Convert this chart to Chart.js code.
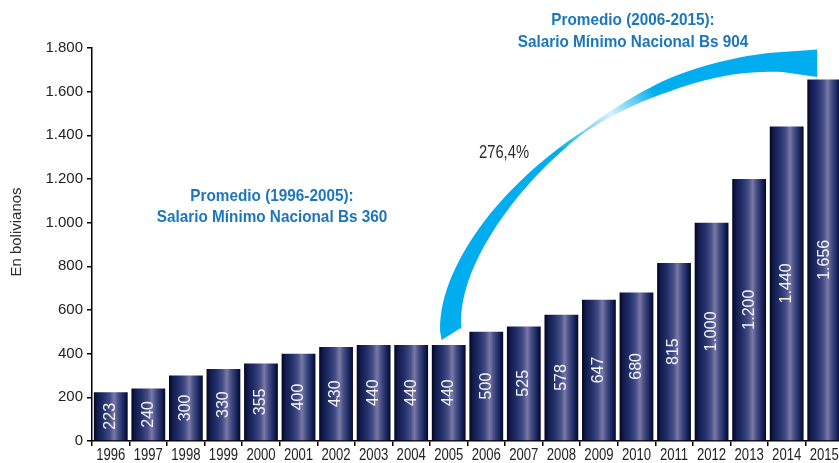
<!DOCTYPE html>
<html><head><meta charset="utf-8">
<script src="https://cdn.jsdelivr.net/npm/chart.js@4.4.0/dist/chart.umd.min.js"></script>
<style>html,body{margin:0;padding:0;background:#fff;overflow:hidden}#wrap{width:843px;height:463px}</style>
</head><body><div id="wrap"><canvas id="c" width="843" height="463"></canvas></div>
<script>
const years = ['1996','1997','1998','1999','2000','2001','2002','2003','2004','2005','2006','2007','2008','2009','2010','2011','2012','2013','2014','2015'];
const salarioMinimo = [223,240,300,330,355,400,430,440,440,440,500,525,578,647,680,815,1000,1200,1440,1656];
const yTicks = [0,200,400,600,800,1000,1200,1400,1600,1800];
const axisTitle = 'En bolivianos';
const avgFirst = ['Promedio (1996-2005):','Salario Mínimo Nacional Bs 360'];
const avgSecond = ['Promedio (2006-2015):','Salario Mínimo Nacional Bs 904'];
const growthLabel = '276,4%';

const fmt = v => String(v).replace(/\B(?=(\d{3})+(?!\d))/g, '.');
const REG = '"Liberation Sans", Arial, sans-serif';
const BAR_PCT = 0.9;

function narrowText(ctx, text, x, y, font, sx, color, rot) {
  ctx.save();
  ctx.translate(x, y);
  if (rot) ctx.rotate(rot);
  ctx.scale(sx, 1);
  ctx.font = font;
  ctx.fillStyle = color;
  ctx.textAlign = 'center';
  ctx.textBaseline = 'middle';
  ctx.fillText(text, 0, 0);
  ctx.restore();
}

function barGradient(ctx) {
  const chart = ctx.chart;
  const xs = chart.scales && chart.scales.x;
  if (!xs || !chart.chartArea || ctx.dataIndex === undefined) return '#1f2c66';
  const c = xs.getPixelForValue(ctx.dataIndex);
  const w = xs.width / years.length * BAR_PCT;
  const g = chart.ctx.createLinearGradient(c - w / 2, 0, c + w / 2, 0);
  g.addColorStop(0, '#02051f');
  g.addColorStop(0.1, '#101a4a');
  g.addColorStop(0.3, '#22306c');
  g.addColorStop(0.48, '#464f85');
  g.addColorStop(0.6, '#7a78a6');
  g.addColorStop(0.72, '#464f85');
  g.addColorStop(0.86, '#1e2b64');
  g.addColorStop(1, '#03072a');
  return g;
}

const valueLabels = {
  id: 'valueLabels',
  afterDatasetsDraw(chart) {
    const ctx = chart.ctx;
    const meta = chart.getDatasetMeta(0);
    ctx.save();
    ctx.fillStyle = '#f4f4f8';
    ctx.font = '16px ' + REG;
    ctx.textAlign = 'center';
    ctx.textBaseline = 'middle';
    meta.data.forEach((el, i) => {
      ctx.save();
      ctx.translate(el.x, (el.y + el.base) / 2);
      ctx.rotate(-Math.PI / 2);
      ctx.fillText(fmt(salarioMinimo[i]), 0, 0);
      ctx.restore();
    });
    ctx.restore();
  }
};

const xLabels = {
  id: 'xLabels',
  afterDraw(chart) {
    const ctx = chart.ctx;
    const xs = chart.scales.x;
    years.forEach((y, i) => {
      narrowText(ctx, y, xs.getPixelForValue(i), xs.top + 15, '16px ' + REG, 0.82, '#222');
    });
  }
};

function bez(p, t) {
  const u = 1 - t;
  return {
    x: u*u*u*p[0].x + 3*u*u*t*p[1].x + 3*u*t*t*p[2].x + t*t*t*p[3].x,
    y: u*u*u*p[0].y + 3*u*u*t*p[1].y + 3*u*t*t*p[2].y + t*t*t*p[3].y
  };
}
function bezD(p, t) {
  const u = 1 - t;
  return {
    x: 3*u*u*(p[1].x-p[0].x) + 6*u*t*(p[2].x-p[1].x) + 3*t*t*(p[3].x-p[2].x),
    y: 3*u*u*(p[1].y-p[0].y) + 6*u*t*(p[2].y-p[1].y) + 3*t*t*(p[3].y-p[2].y)
  };
}
const halfW = [[0,11],[0.15,9],[0.35,6],[0.5,3],[0.6,1],[0.68,3],[0.78,6],[0.9,7.5],[1,10]];
function hAt(t) {
  for (let i = 1; i < halfW.length; i++) {
    if (t <= halfW[i][0]) {
      const a = halfW[i-1], b = halfW[i];
      return a[1] + (b[1]-a[1]) * (t - a[0]) / (b[0] - a[0]);
    }
  }
  return halfW[halfW.length-1][1];
}

const annotations = {
  id: 'annotations',
  afterDatasetsDraw(chart) {
    const ctx = chart.ctx;
    const xs = chart.scales.x, ys = chart.scales.y;
    const A = { x: xs.getPixelForValue(9), y: ys.getPixelForValue(salarioMinimo[9]) };
    const B = { x: xs.getPixelForValue(19), y: ys.getPixelForValue(salarioMinimo[19]) };
    const P = [
      { x: A.x + 2.5, y: A.y - 11 },
      { x: A.x - 9, y: A.y - 105 },
      { x: B.x - 224, y: B.y - 15 },
      { x: B.x - 42, y: B.y - 17.5 }
    ];
    const outer = [], inner = [];
    const N = 80;
    for (let i = 0; i <= N; i++) {
      const t = i / N;
      const c = bez(P, t), d = bezD(P, t);
      const L = Math.hypot(d.x, d.y);
      const n = { x: d.y / L, y: -d.x / L };
      const h = hAt(t);
      outer.push({ x: c.x + n.x * h, y: c.y + n.y * h });
      inner.push({ x: c.x - n.x * h, y: c.y - n.y * h });
    }
    outer[0] = { x: A.x - 7, y: A.y - 5 };
    inner[0] = { x: A.x + 12, y: A.y - 17 };
    const top = { x: B.x - 7, y: B.y - 30 };
    const tip = { x: B.x - 7, y: B.y - 2.5 };
    ctx.save();
    const g = ctx.createLinearGradient(A.x - 20, A.y, B.x, B.y - 20);
    g.addColorStop(0, '#00aeef');
    g.addColorStop(0.45, '#00aeef');
    g.addColorStop(0.58, '#d8f2fd');
    g.addColorStop(0.68, '#00aeef');
    g.addColorStop(1, '#00aeef');
    ctx.fillStyle = g;
    ctx.beginPath();
    ctx.moveTo(outer[0].x, outer[0].y);
    outer.forEach(p => ctx.lineTo(p.x, p.y));
    ctx.lineTo(top.x, top.y);
    ctx.lineTo(tip.x, tip.y);
    for (let i = inner.length - 1; i >= 0; i--) ctx.lineTo(inner[i].x, inner[i].y);
    ctx.closePath();
    ctx.fill();
    ctx.restore();

    const blue = '#1b76bd';
    const bfont = 'bold 17px ' + REG;
    narrowText(ctx, avgFirst[0], 272, 196, bfont, 0.9, blue);
    narrowText(ctx, avgFirst[1], 272, 217, bfont, 0.9, blue);
    narrowText(ctx, avgSecond[0], 633, 20, bfont, 0.9, blue);
    narrowText(ctx, avgSecond[1], 633, 42, bfont, 0.9, blue);
    narrowText(ctx, growthLabel, 504, 153, '18px ' + REG, 0.82, '#2b2b2b');
    narrowText(ctx, axisTitle, 17, 232, '15px ' + REG, 1, '#2b2b2b', -Math.PI / 2);
  }
};

new Chart(document.getElementById('c'), {
  type: 'bar',
  data: {
    labels: years,
    datasets: [{
      data: salarioMinimo,
      backgroundColor: barGradient,
      borderWidth: 0,
      barPercentage: BAR_PCT,
      categoryPercentage: 1
    }]
  },
  options: {
    responsive: false,
    animation: false,
    devicePixelRatio: 1,
    layout: { padding: { top: 48, left: 0, right: 0, bottom: 0 } },
    plugins: { legend: { display: false }, tooltip: { enabled: false } },
    scales: {
      x: {
        afterFit: s => { s.height = 22; },
        grid: { drawOnChartArea: false, drawTicks: true, tickLength: 5, color: '#000', lineWidth: 1.5, offset: true },
        border: { color: '#000', width: 1.5 },
        ticks: { display: false, autoSkip: false }
      },
      y: {
        min: 0, max: 1800,
        afterFit: s => { s.width = 92; },
        afterBuildTicks: s => { s.ticks = yTicks.map(v => ({ value: v })); },
        grid: { drawOnChartArea: false, drawTicks: true, tickLength: 5, color: '#000', lineWidth: 1.5 },
        border: { color: '#000', width: 1.5 },
        ticks: { color: '#222', font: { family: REG, size: 15 }, padding: 4, callback: v => fmt(v) }
      }
    }
  },
  plugins: [valueLabels, annotations, xLabels]
});
</script>
</body></html>
